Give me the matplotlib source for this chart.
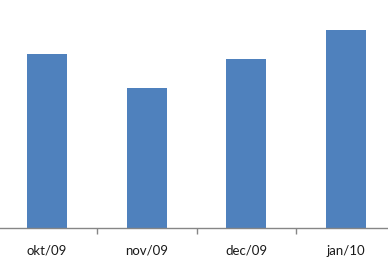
import matplotlib
matplotlib.use("Agg")
import matplotlib.pyplot as plt
import numpy as np

# data
months = ["okt/09", "nov/09", "dec/09", "jan/10"]
values = [174, 140, 169, 198]

bar_color = "#4F81BD"
axis_color = "#868686"

fig = plt.figure(figsize=(3.88, 2.66), dpi=100)
ax = fig.add_axes([-3 / 388, 38 / 266, 399 / 388, 228 / 266])

x = np.arange(len(months))
ax.bar(x, values, width=0.4, color=bar_color)

ax.set_xlim(-0.5, len(months) - 0.5)
ax.set_ylim(0, 228)

for side in ["left", "right", "top"]:
    ax.spines[side].set_visible(False)
ax.spines["bottom"].set_color(axis_color)
ax.spines["bottom"].set_linewidth(1)

ax.set_yticks([])
ax.set_xticks(x)
ax.set_xticklabels(months, fontsize=9.5, family="Lato", color="#1a1a1a")
ax.tick_params(axis="x", which="major", length=0, pad=12)
ax.set_xticks(np.arange(-0.5, len(months), 1), minor=True)
ax.tick_params(axis="x", which="minor", length=4, width=1, color=axis_color, direction="out")

fig.savefig("out.png", dpi=100)
